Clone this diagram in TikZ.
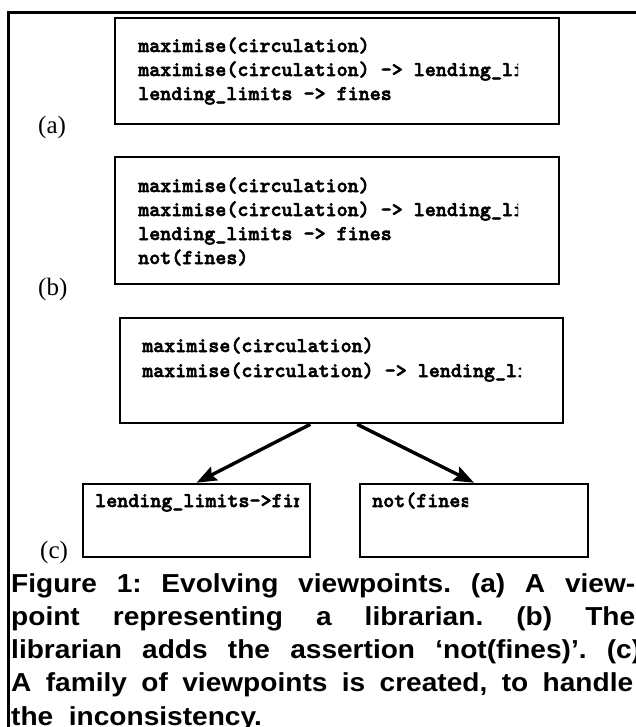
\documentclass[tikz,border=0pt]{standalone}
\usepackage{fontspec}
\usetikzlibrary{arrows.meta,fit,calc}
\newfontfamily\capfont{Liberation Sans}[FakeStretch=1.08]
\newfontfamily\labfont{Liberation Serif}
\newfontfamily\codefont{lmmonolt10-bold.otf}[FakeBold=2.5]
\frenchspacing
\tikzset{
  vbox/.style={draw, line width=2.6bp, inner sep=0pt, rectangle},
  codeline/.style={anchor=base west, inner sep=0pt, font=\fontsize{21bp}{24bp}\selectfont\codefont},
  tag/.style={anchor=base west, inner sep=0pt, font=\fontsize{25bp}{28bp}\selectfont\labfont},
  capline/.style={anchor=base west, inner sep=0pt, font=\fontsize{26bp}{30bp}\selectfont\capfont\bfseries},
  link/.style={line width=3.4bp, -{Stealth[length=20bp,width=15bp,inset=3bp]}},
}
\begin{document}
\begin{tikzpicture}[x=1bp, y=-1bp]
\useasboundingbox (0,0) rectangle (636,727);

% open frame: left and top rules only
\draw[line width=3bp] (8,727) -- (8,13) -- (636,13);

% (a) the librarian's viewpoint
\node[vbox, fit={(115,18) (559,124)}] (boxa) {};
\begin{scope}
  \clip (115,18) rectangle (518,124);
  \node[codeline] (a1) at (138,52) {maximise(circulation)};
  \node[codeline] (a2) at (138,76) {maximise(circulation) -> lending\_limits};
  \node[codeline] (a3) at (138,100) {lending\_limits -> fines};
\end{scope}
\node[tag] (taga) at (38,134) {(a)};

% (b) after adding not(fines)
\node[vbox, fit={(115,157) (559,284)}] (boxb) {};
\begin{scope}
  \clip (115,157) rectangle (518,284);
  \node[codeline] (b1) at (138,192) {maximise(circulation)};
  \node[codeline] (b2) at (138,216) {maximise(circulation) -> lending\_limits};
  \node[codeline] (b3) at (138,240) {lending\_limits -> fines};
  \node[codeline] (b4) at (138,264) {not(fines)};
\end{scope}
\node[tag] (tagb) at (38,295) {(b)};

% (c) the family of viewpoints
\node[vbox, fit={(120,318) (563,423)}] (boxc) {};
\begin{scope}
  \clip (120,318) rectangle (521,423);
  \node[codeline] (c1) at (142,352) {maximise(circulation)};
  \node[codeline] (c2) at (142,377) {maximise(circulation) -> lending\_limits};
\end{scope}

\node[vbox, fit={(83,484) (310,557)}] (left) {};
\begin{scope}
  \clip (83,484) rectangle (299,557);
  \node[codeline] (l1) at (95,507) {lending\_limits->fines};
\end{scope}

\node[vbox, fit={(360,484) (588,557)}] (right) {};
\begin{scope}
  \clip (360,484) rectangle (468,557);
  \node[codeline] (r1) at (372,507) {not(fines)};
\end{scope}
\node[tag] (tagc) at (40,558) {(c)};

\draw[link] ($(boxc.south west)!0.43!(boxc.south east)$) -- (left.north);
\draw[link] ($(boxc.south west)!0.535!(boxc.south east)$) -- (right.north);

% caption, one justified line at a time
\node[capline] (cap1) at (11,592) {\makebox[624bp][s]{Figure 1: Evolving viewpoints. (a) A view-}};
\node[capline] (cap2) at (11,625) {\makebox[624bp][s]{point representing a librarian. (b) The}};
\node[capline] (cap3) at (11,658) {\makebox[630bp][s]{librarian adds the assertion ‘not(fines)’. (c)}};
\node[capline] (cap4) at (11,691) {\makebox[622bp][s]{A family of viewpoints is created, to handle}};
\node[capline] (cap5) at (11,725) {the\hspace{0.6em}inconsistency.};
\end{tikzpicture}
\end{document}
